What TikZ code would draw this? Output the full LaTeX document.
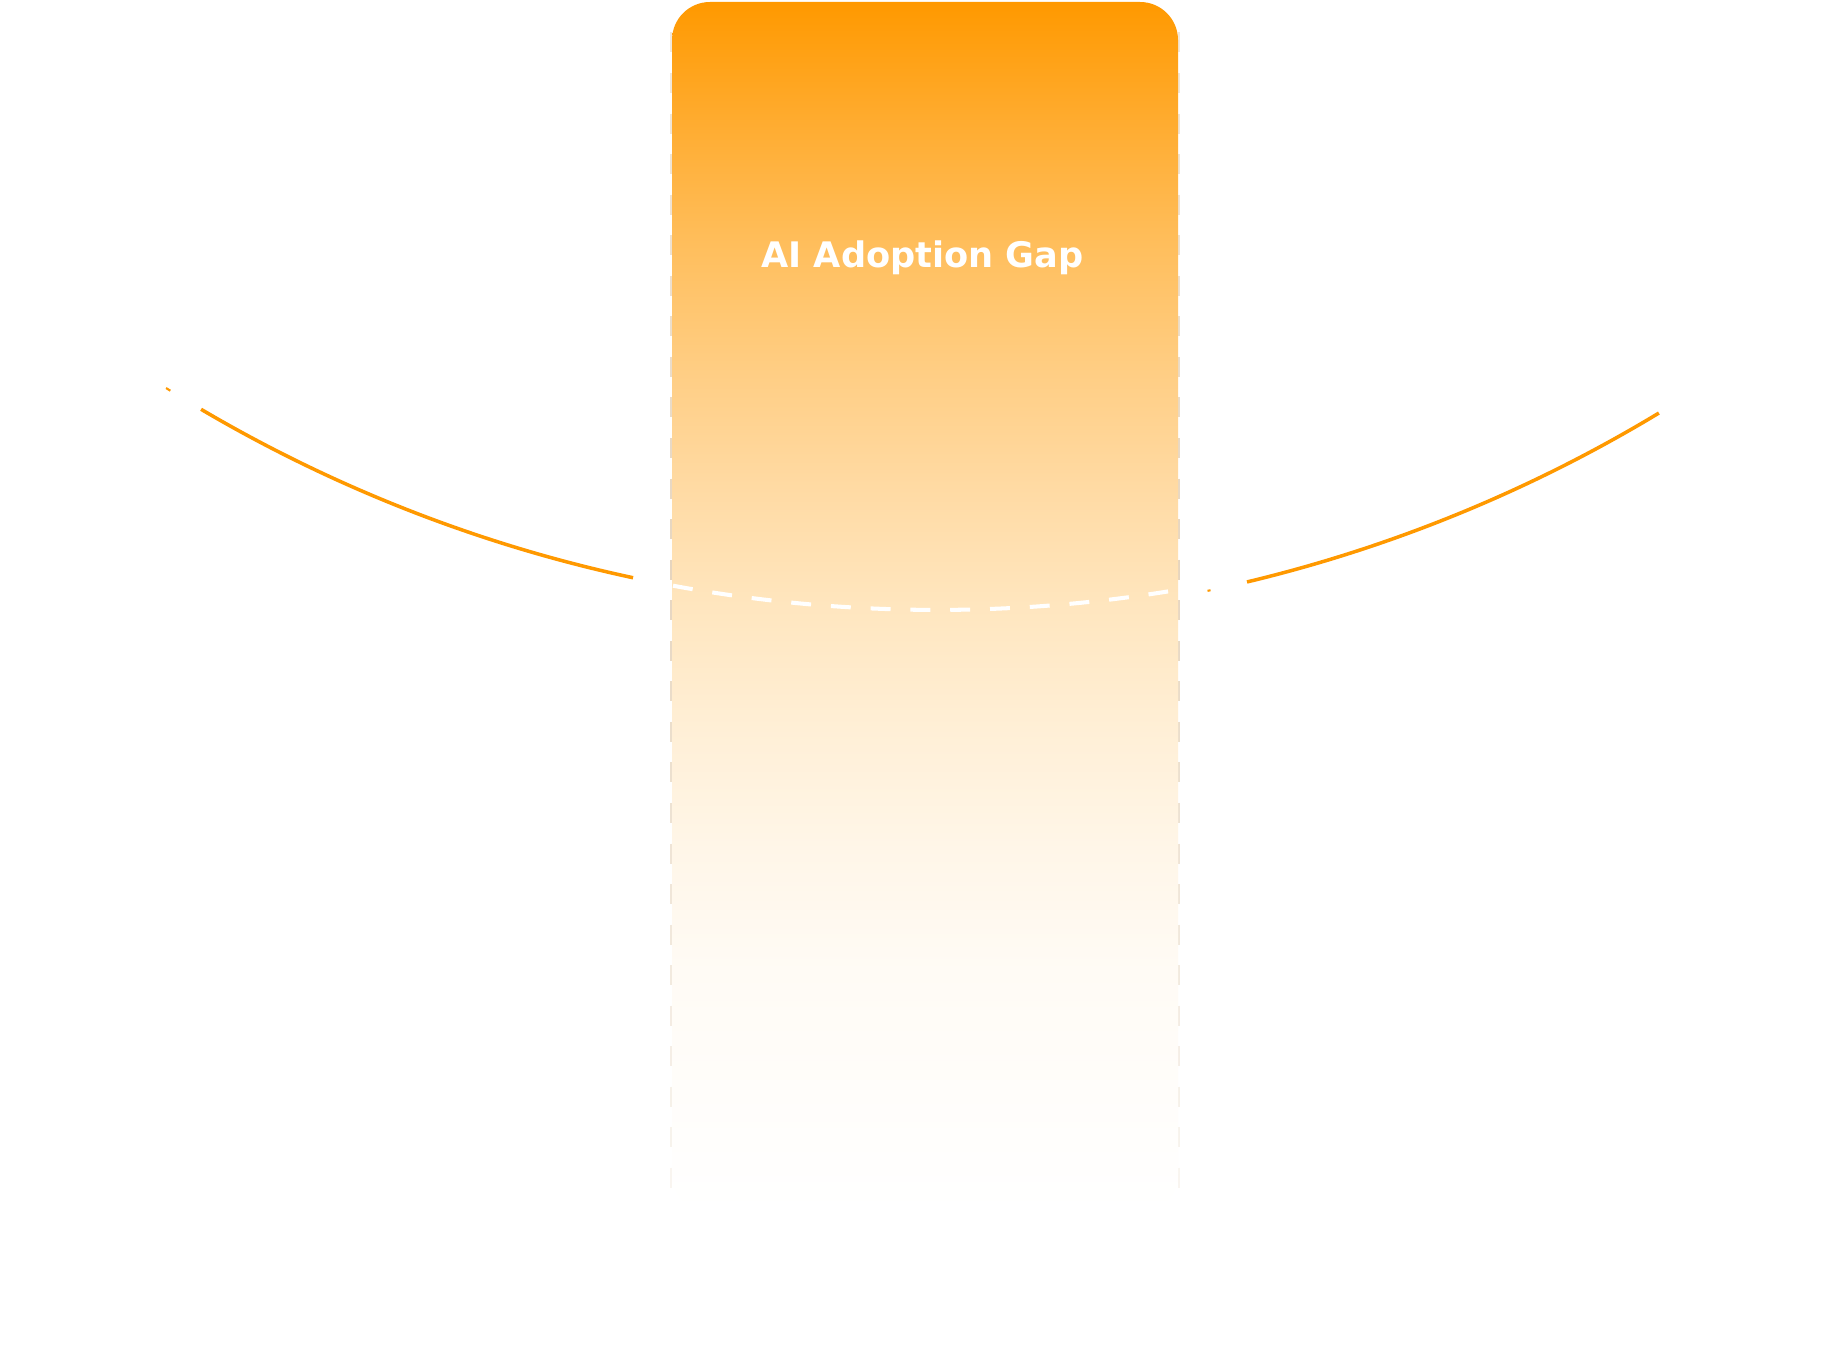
\documentclass[tikz,border=0pt]{standalone}
\usepackage{fontspec}
\newfontfamily\titlefont{DejaVu Sans}
\definecolor{gA}{RGB}{255,153,0}
\definecolor{gB}{RGB}{255,172,48}
\definecolor{gC}{RGB}{255,190,92}
\definecolor{gD}{RGB}{255,205,130}
\definecolor{gE}{RGB}{255,218,163}
\definecolor{gF}{RGB}{255,230,191}
\definecolor{gG}{RGB}{255,239,214}
\definecolor{gH}{RGB}{255,246,232}
\definecolor{gI}{RGB}{255,251,245}
\definecolor{gJ}{RGB}{255,255,255}
\definecolor{arcorange}{RGB}{255,153,0}
\definecolor{dashtan}{RGB}{210,180,140}
\pgfdeclareverticalshading{gapshade}{100bp}{%
  color(0bp)=(gJ); color(25bp)=(gJ); color(35bp)=(gI); color(40bp)=(gH);
  color(45bp)=(gG); color(50bp)=(gF); color(55bp)=(gE); color(60bp)=(gD);
  color(65bp)=(gC); color(70bp)=(gB); color(75bp)=(gA); color(100bp)=(gA)}
\tikzset{
  orangearc/.style={draw=arcorange, line width=1pt, line cap=butt},
  whitedash/.style={draw=white, line width=1.15pt, dash pattern=on 5.66pt off 5.66pt},
  edgedash/.style={draw=dashtan, line width=0.62pt},
  title/.style={text=white, font=\titlefont\bfseries\fontsize{10pt}{12pt}\selectfont, inner sep=0pt, anchor=base}
}
\begin{document}
\begin{tikzpicture}[x=0.01cm, y=-0.01cm]
\useasboundingbox (0,0) rectangle (1846,1352);
\fill[white] (0,0) rectangle (1846,1352);
\coordinate (ctrL) at (937,-840);
\coordinate (ctrR) at (909.3,-828.1);
% dashed guide lines along the band edges
\foreach \k in {0,...,28}{
  \pgfmathsetmacro\op{\k<=13 ? 0.3+0.25*\k/13 : 0.55-0.42*(\k-13)/15}
  \pgfmathsetmacro\ya{32.5+40.55*\k}
  \pgfmathsetmacro\yb{52.5+40.55*\k}
  \draw[edgedash, draw opacity=\op] (671,\ya) -- (671,\yb);
  \draw[edgedash, draw opacity=\op] (1179,\ya) -- (1179,\yb);
}
% gap band
\shade[shading=gapshade, rounded corners=10.8pt] (672,2) rectangle (1178,1212);
% dashed arc inside the band
\draw[whitedash] (ctrL) ++(100.49:1450) arc[start angle=100.49, end angle=80.83, radius=1450];
% orange arcs outside the band
\draw[orangearc, line width=0.6pt] (ctrL) ++(122.12:1450) arc[start angle=122.12, end angle=121.92, radius=1450];
\draw[orangearc] (ctrL) ++(120.50:1450) arc[start angle=120.50, end angle=102.10, radius=1450];
\draw[orangearc, line width=0.6pt] (ctrR) ++(78.13:1450) arc[start angle=78.13, end angle=78.01, radius=1450];
\draw[orangearc] (ctrR) ++(76.53:1450) arc[start angle=76.53, end angle=58.87, radius=1450];
% title
\node[title] (gaptitle) at (922.5,268) {AI Adoption Gap};
\end{tikzpicture}
\end{document}
